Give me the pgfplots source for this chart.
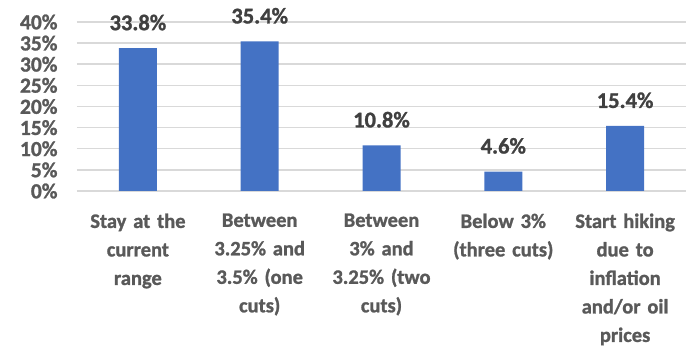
\documentclass[border=0pt]{standalone}
\usepackage{pgfplots}
\pgfplotsset{compat=1.18}
\usepackage{fontspec}
\setmainfont{Carlito}[BoldFeatures={FakeBold=1.2}]

\definecolor{barblue}{HTML}{4472C4}
\definecolor{ticktext}{HTML}{595959}
\definecolor{labeltext}{HTML}{404040}
\definecolor{gridgray}{HTML}{D9D9D9}

\begin{document}
\begin{tikzpicture}
\begin{axis}[
  name=ax,
  scale only axis,
  width=609pt, height=169pt,
  xmin=-0.5, xmax=4.5,
  ymin=0, ymax=40,
  ytick={0,5,...,40},
  yticklabel={\pgfmathprintnumber{\tick}\%},
  /pgf/number format/assume math mode=true,
  xtick={0,1,2,3,4},
  xticklabels={
    {Stay at the\\current\\range},
    {Between\\3.25\% and\\3.5\% (one\\cuts)},
    {Between\\3\% and\\3.25\% (two\\cuts)},
    {Below 3\%\\(three cuts)},
    {Start hiking\\due to\\inflation\\and/or oil\\prices}},
  axis line style={draw=none},
  major tick length=0pt,
  tick style={draw=none},
  ymajorgrids,
  grid style={gridgray, line width=1.5pt},
  yticklabel style={font=\fontsize{21.5}{25}\selectfont\bfseries, text=ticktext, xshift=-16pt},
  xticklabel style={font=\fontsize{20.5}{28.5}\selectfont\bfseries, text=ticktext,
    text width=124pt, align=center, yshift=-19pt},
  ybar, bar width=38pt,
  nodes near coords={\pgfmathprintnumber[fixed,precision=1,fixed zerofill]{\pgfplotspointmeta}\%},
  every node near coord/.append style={font=\fontsize{22.5}{27}\selectfont\bfseries,
    text=labeltext, anchor=base, yshift=18pt},
]
\addplot[fill=barblue, draw=none] coordinates {
  (0,33.8) (1,35.4) (2,10.8) (3,4.6) (4,15.4)
};
\end{axis}
\pgfresetboundingbox
\path[use as bounding box] ([xshift=-77pt,yshift=-160pt]ax.south west)
  rectangle ([xshift=12pt,yshift=22pt]ax.north east);
\end{tikzpicture}
\end{document}
